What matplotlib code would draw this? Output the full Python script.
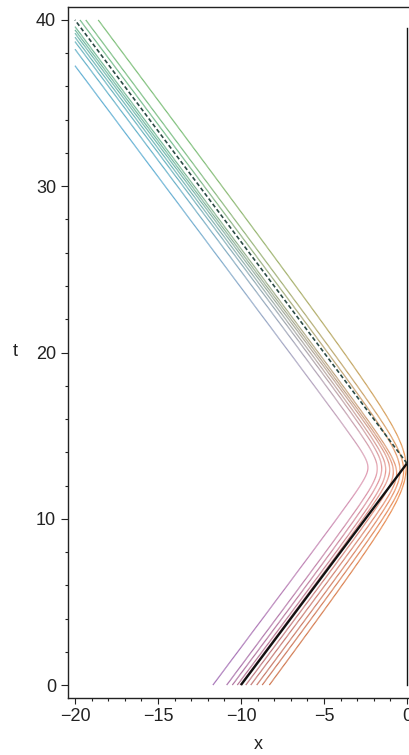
import numpy as np
import matplotlib
matplotlib.use('Agg')
import matplotlib.pyplot as plt
from matplotlib.collections import LineCollection
from matplotlib.colors import to_rgb
from matplotlib.ticker import MultipleLocator

# each coloured path starts at t=0, turns near the wall, leaves
speed = 0.75
x_start = [-11.69, -10.86, -10.52, -10.22, -10.05, -9.71, -9.41, -9.05, -8.72, -8.29]
x_turn = [-2.35, -1.79, -1.52, -1.28, -1.04, -0.82, -0.62, -0.42, -0.20, -0.05]
x_end = [-20, -20, -20, -20, -20, -20, -20, -19.7, -19.35, -18.6]
t_end = [37.25, 38.24, 38.7, 38.96, 39.2, 39.4, 39.6, 40, 40, 40]

# black reference path (solid in, dashed out) and the wall
ref_x = [-10.0, 0.0, -20.0]
ref_t = [0.0, 13.33, 40.0]
wall_x = [0.0, 0.0]
wall_t = [0.0, 39.5]

# colours at start / turn / end, for first and last path
col_start = ['#a673b8', '#d0774f']
col_turn = ['#e29ab0', '#f39450']
col_end = ['#62b0d4', '#7cbf78']

plt.rcParams['font.family'] = ['Liberation Sans', 'DejaVu Sans']
fig = plt.figure(figsize=(4.09, 7.55), dpi=100)
ax = fig.add_axes([68 / 409, 57 / 755, 348.9 / 409, 691 / 755])


def mix(a, b, f):
    a = np.array(to_rgb(a))
    b = np.array(to_rgb(b))
    return a + (b - a) * f


def bounce(xs, xt, xe, te):
    # hyperbola x = apex - sqrt(c^2 + v^2 (t-tc)^2) with c = apex - xt
    def side(apex, x0):
        return np.sqrt(max((xt - x0) * (2 * apex - x0 - xt), 0))
    lo, hi = xt, xt + 10
    for _ in range(60):
        mid = (lo + hi) / 2
        if side(mid, xs) + side(mid, xe) < speed * te:
            lo = mid
        else:
            hi = mid
    apex = (lo + hi) / 2
    tc = side(apex, xs) / speed
    return apex, apex - xt, tc


n = len(x_start)
for i in range(n):
    apex, c, tc = bounce(x_start[i], x_turn[i], x_end[i], t_end[i])
    t = np.linspace(0, t_end[i], 600)
    x = apex - np.sqrt(c ** 2 + (speed * (t - tc)) ** 2)
    ok = x >= -20.02
    t, x = t[ok], x[ok]
    f = i / (n - 1)
    c0 = mix(col_start[0], col_start[1], f)
    c1 = mix(col_turn[0], col_turn[1], f)
    c2 = mix(col_end[0], col_end[1], f)
    tm = (t[:-1] + t[1:]) / 2
    cols = []
    for tt in tm:
        if tt < tc:
            cols.append(mix(c0, c1, (tt / tc) ** 1.5))
        else:
            cols.append(mix(c1, c2, min((tt - tc) / (t_end[i] - tc) * 1.4, 1) ** 0.8))
    pts = np.column_stack([x, t]).reshape(-1, 1, 2)
    segs = np.concatenate([pts[:-1], pts[1:]], axis=1)
    ax.add_collection(LineCollection(segs, colors=cols, linewidths=0.9))

ax.plot(ref_x[:2], ref_t[:2], color='#111111', lw=1.7, solid_capstyle='butt')
ax.plot(ref_x[1:], ref_t[1:], color='#2a4a44', lw=1.2, ls=(0, (2.5, 1.5)))
ax.plot(wall_x, wall_t, color='#111111', lw=1.0)

ax.set_xlim(-20.42, 0.6)
ax.set_ylim(-0.78, 40.78)
ax.xaxis.set_major_locator(MultipleLocator(5))
ax.xaxis.set_minor_locator(MultipleLocator(1))
ax.yaxis.set_major_locator(MultipleLocator(10))
ax.yaxis.set_minor_locator(MultipleLocator(2))
ax.xaxis.set_major_formatter(plt.FuncFormatter(lambda v, p: ('%d' % v).replace('-', '\u2212')))
ax.tick_params(which='major', length=4.5, width=0.8, labelsize=13, colors='#222222', pad=2.5)
ax.tick_params(which='minor', length=2, width=0.8, colors='#222222')
ax.tick_params(axis='y', which='major', length=5, pad=3.5)
for s in ['left', 'bottom', 'top', 'right']:
    ax.spines[s].set_color('#222222')
    ax.spines[s].set_linewidth(1.0)

ax.set_xlabel('x', fontsize=13, color='#222222')
ax.xaxis.set_label_coords(0.545, -0.055)
ax.set_ylabel('t', fontsize=13, color='#222222', rotation=0)
ax.yaxis.set_label_coords(-0.152, 0.489)

fig.savefig('out.png', dpi=100)
